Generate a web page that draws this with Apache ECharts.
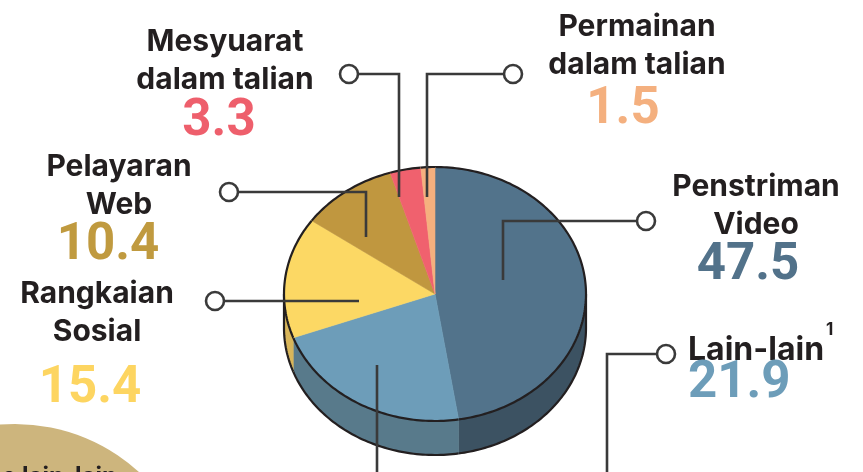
<!DOCTYPE html>
<html>
<head>
<meta charset="utf-8">
<script src="https://cdn.jsdelivr.net/npm/echarts@6.0.0/dist/echarts.min.js"></script>
<style>
  body { margin: 0; background: #fff; }
  #main { width: 863px; height: 472px; }
</style>
</head>
<body>
<div id="main"></div>
<script>
// data, clockwise from 12 o'clock
const categories = ['Penstriman\nVideo', 'Lain-lain', 'Rangkaian\nSosial', 'Pelayaran\nWeb', 'Mesyuarat\ndalam talian', 'Permainan\ndalam talian'];
const values = [47.5, 21.9, 15.4, 10.4, 3.3, 1.5];

// styles
const topColors = ['#52738b', '#6d9db9', '#fcd864', '#c0973f', '#f0616e', '#f5b07e'];
const sideColors = ['#3c5262', '#587a8b', '#d9b65a', '#a07e35', '#c8505b', '#d09468'];
const numColors = ['#52728a', '#6d9db9', '#fdd561', '#c09a3f', '#ee5f6c', '#f4b07f'];
const INK = '#231f20';
const LINE = '#3a3a3a';

// pie geometry (ellipse to fake the tilt)
const CX = 435, CY = 294, RX = 151, RY = 127, DEPTH = 34;

// label placement per category
const labelPos = [
  { x: 756, y: 186.5, nx: 748, ny: 266 },
  { x: 688, y: 350.5, nx: 688, ny: 384, align: 'left', size: 32 },
  { x: 97, y: 293.5, nx: 90, ny: 389 },
  { x: 119, y: 166.5, nx: 108, ny: 246 },
  { x: 225, y: 41.5, nx: 219, ny: 122 },
  { x: 637, y: 26.5, nx: 623, ny: 110 }
];

// leader lines: polyline points + open circle at the label end
const leaders = [
  { pts: [[503, 280], [503, 221], [637, 221]], dot: [646, 221] },
  { pts: [[607, 480], [607, 354], [657, 354]], dot: [666, 354] },
  { pts: [[377, 365], [377, 480]] },
  { pts: [[359, 301], [224, 301]], dot: [215, 301] },
  { pts: [[366, 237], [366, 192], [238, 192]], dot: [229, 192] },
  { pts: [[399, 197], [399, 74], [358, 74]], dot: [349, 74] },
  { pts: [[427, 197], [427, 74], [504, 74]], dot: [513, 74] }
];

const total = values.reduce((a, b) => a + b, 0);
const starts = [];
let acc = 0;
values.forEach(v => { starts.push(acc); acc += v; });

function angleOf(v) { return v / total * Math.PI * 2; }
function pt(t, dy) { return [CX + RX * Math.sin(t), CY - RY * Math.cos(t) + dy]; }
function arc(a0, a1, dy) {
  const n = Math.max(2, Math.ceil((a1 - a0) / 0.02));
  const out = [];
  for (let k = 0; k <= n; k++) out.push(pt(a0 + (a1 - a0) * k / n, dy));
  return out;
}

function renderTop(params, api) {
  const i = params.dataIndex;
  const a0 = angleOf(starts[i]);
  const a1 = angleOf(starts[i] + api.value(0));
  return {
    type: 'group',
    children: [
      {
        type: 'polygon',
        shape: { points: [[CX, CY]].concat(arc(a0, a1, 0)) },
        style: { fill: topColors[i], stroke: topColors[i], lineWidth: 0.6 }
      },
      {
        type: 'polyline',
        shape: { points: arc(a0, a1, 0) },
        style: { fill: null, stroke: INK, lineWidth: 2.2 }
      }
    ]
  };
}

function renderSide(params, api) {
  const i = params.dataIndex;
  const a0 = angleOf(starts[i]);
  const a1 = angleOf(starts[i] + api.value(0));
  const s = Math.max(a0, Math.PI / 2);
  const e = Math.min(a1, Math.PI * 1.5);
  if (s >= e) return { type: 'group', children: [] };
  const children = [
    {
      type: 'polygon',
      shape: { points: arc(s, e, 0).concat(arc(s, e, DEPTH).reverse()) },
      style: { fill: sideColors[i], stroke: sideColors[i], lineWidth: 0.6 }
    },
    {
      type: 'polyline',
      shape: { points: arc(s, e, DEPTH) },
      style: { fill: null, stroke: INK, lineWidth: 2.2 }
    }
  ];
  // outer silhouette edges
  [Math.PI / 2, Math.PI * 1.5].forEach(t => {
    if (t === s || t === e) {
      const p = pt(t, 0);
      children.push({
        type: 'line',
        shape: { x1: p[0], y1: p[1], x2: p[0], y2: p[1] + DEPTH },
        style: { stroke: INK, lineWidth: 2.2 }
      });
    }
  });
  return { type: 'group', children: children };
}

const graphics = [];

// beige blob bottom-left
graphics.push({
  type: 'circle', z: 0,
  shape: { cx: 15, cy: 608, r: 184 },
  style: { fill: '#cdb57d' }
});
graphics.push({
  type: 'text', z: 1,
  style: { text: 'e lain-lain', x: 117, y: 465, textAlign: 'right', textVerticalAlign: 'top',
    fontFamily: 'Inter', fontWeight: 'bold', fontSize: 24, fill: INK }
});

leaders.forEach(l => {
  graphics.push({
    type: 'polyline', z: 10,
    shape: { points: l.pts },
    style: { fill: null, stroke: LINE, lineWidth: 2.6 }
  });
  if (l.dot) {
    graphics.push({
      type: 'circle', z: 11,
      shape: { cx: l.dot[0], cy: l.dot[1], r: 9 },
      style: { fill: '#fff', stroke: LINE, lineWidth: 2.6 }
    });
  }
});

categories.forEach((name, i) => {
  const p = labelPos[i];
  const align = p.align || 'center';
  name.split('\n').forEach((line, k) => {
    graphics.push({
      type: 'text', z: 12,
      style: { text: line, x: p.x, y: p.y + k * 38, textAlign: align, textVerticalAlign: 'middle',
        fontFamily: 'Inter', fontWeight: 'bold', fontSize: p.size || 30, fill: INK }
    });
  });
  graphics.push({
    type: 'text', z: 12,
    style: { text: values[i].toFixed(1), x: p.nx, y: p.ny, textAlign: align, textVerticalAlign: 'middle',
      fontFamily: 'Roboto', fontWeight: 'bold', fontSize: 51, fill: numColors[i] }
  });
});

// footnote marker on Lain-lain
graphics.push({
  type: 'text', z: 12,
  style: { text: '1', x: 826, y: 330, textAlign: 'left', textVerticalAlign: 'middle',
    fontFamily: 'Inter', fontWeight: 'bold', fontSize: 17, fill: INK }
});

const chart = echarts.init(document.getElementById('main'));
chart.setOption({
  animation: false,
  graphic: graphics,
  series: [
    {
      type: 'custom', coordinateSystem: 'none', silent: true, z: 2,
      renderItem: renderSide,
      data: values
    },
    {
      type: 'custom', coordinateSystem: 'none', silent: true, z: 3,
      renderItem: renderTop,
      data: values
    }
  ]
});
</script>
</body>
</html>
